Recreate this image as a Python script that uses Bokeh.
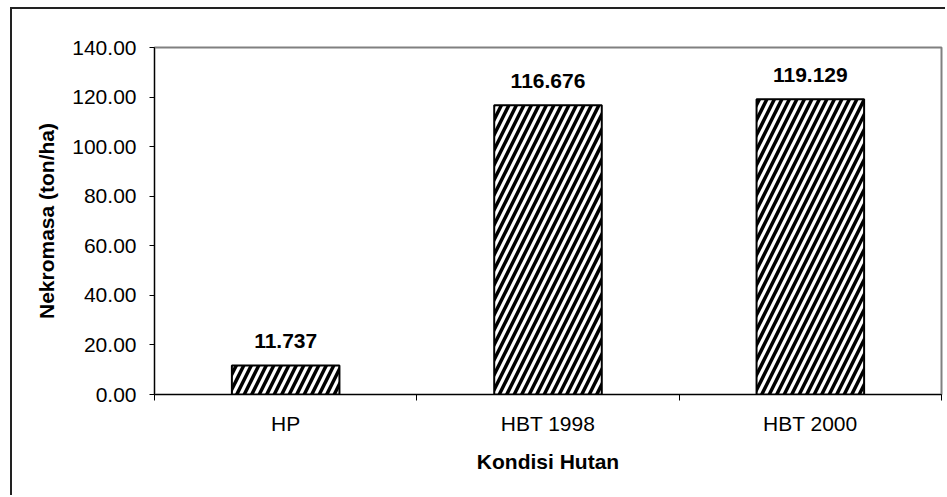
from bokeh.plotting import figure
from bokeh.models import (Range1d, FixedTicker, NumeralTickFormatter,
                          LinearAxis, ColumnDataSource)
from bokeh.core.properties import value
from bokeh.embed import file_html
from bokeh.resources import INLINE

# ---- data ----
categories = ["HP", "HBT 1998", "HBT 2000"]
nekromasa = [11.737, 116.676, 119.129]
value_labels = ["11.737", "116.676", "119.129"]
y_ticks = [0, 20, 40, 60, 80, 100, 120, 140]

FONT = "Liberation Sans"
FS = "21px"

xs = [i + 0.5 for i in range(len(categories))]
src = ColumnDataSource(dict(x=xs, top=nekromasa, lab=value_labels))

p = figure(width=935, height=488, output_backend="svg", toolbar_location=None,
           x_range=Range1d(0, len(categories)), y_range=Range1d(y_ticks[0], y_ticks[-1]),
           x_axis_type=None, y_axis_type=None,
           min_border_left=142, min_border_right=6, min_border_top=38, min_border_bottom=103)
p.styles = {"margin-left": "12px", "margin-top": "9px", "box-shadow": "-2px -2px 0 0 #222"}

p.background_fill_color = "white"
p.border_fill_color = "white"
p.outline_line_color = "#808080"
p.outline_line_width = 2

# bars
p.vbar(x="x", top="top", width=0.41, bottom=0, source=src,
       fill_color="white", line_color="black", line_width=2,
       hatch_pattern="/", hatch_color="black", hatch_scale=15, hatch_weight=3.5)

# value labels
p.text(x="x", y="top", text="lab", source=src, text_align="center", text_baseline="alphabetic",
       y_offset=-24, text_font=value(FONT), text_font_style="bold", text_font_size=FS,
       text_color="black")

# axes
xax = LinearAxis(ticker=FixedTicker(ticks=xs, minor_ticks=list(range(len(categories) + 1))))
xax.major_label_overrides = {x: c for x, c in zip(xs, categories)}
xax.major_tick_out = 0
xax.major_tick_in = 0
xax.minor_tick_out = 6
xax.minor_tick_in = 0
xax.minor_tick_line_color = "black"
xax.axis_line_color = "black"
xax.axis_line_width = 1
xax.major_label_text_font = FONT
xax.major_label_text_font_size = FS
xax.major_label_text_color = "black"
xax.major_label_standoff = 11
xax.axis_label = "Kondisi Hutan"
xax.axis_label_text_font = FONT
xax.axis_label_text_font_style = "bold"
xax.axis_label_text_font_size = FS
xax.axis_label_text_color = "black"
xax.axis_label_standoff = 12
p.add_layout(xax, "below")

yax = LinearAxis(ticker=FixedTicker(ticks=y_ticks, minor_ticks=[]),
                 formatter=NumeralTickFormatter(format="0.00"))
yax.major_tick_out = 5
yax.major_tick_in = 0
yax.minor_tick_out = 0
yax.major_tick_line_color = "black"
yax.axis_line_color = "black"
yax.axis_line_width = 1
yax.major_label_text_font = FONT
yax.major_label_text_font_size = FS
yax.major_label_text_color = "black"
yax.major_label_standoff = 13
yax.axis_label = "Nekromasa (ton/ha)"
yax.axis_label_text_font = FONT
yax.axis_label_text_font_style = "bold"
yax.axis_label_text_font_size = FS
yax.axis_label_text_color = "black"
yax.axis_label_standoff = 11
p.add_layout(yax, "left")

p.xgrid.visible = False
p.ygrid.ticker = FixedTicker(ticks=y_ticks[1:-1])
p.ygrid.grid_line_color = "black"
p.ygrid.grid_line_width = 1

open("out.html", "w").write(file_html(p, INLINE))
